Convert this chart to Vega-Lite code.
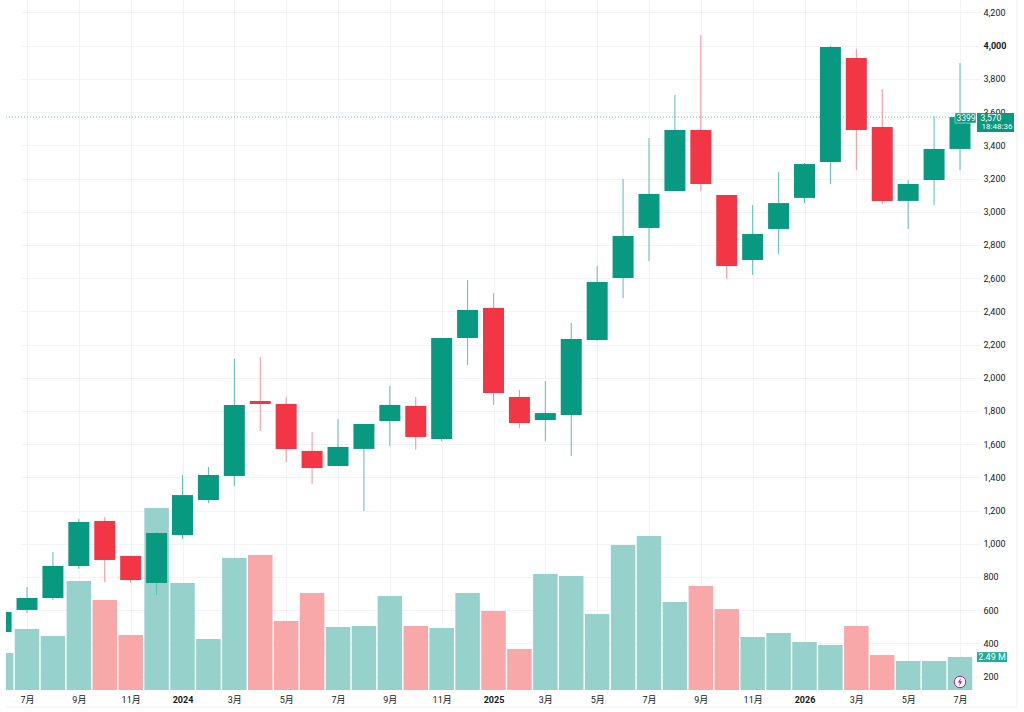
{
  "$schema": "https://vega.github.io/schema/vega-lite/v6.json",
  "width": 969,
  "height": 690,
  "autosize": "none",
  "padding": {"left": 6, "top": 0, "right": 49, "bottom": 22},
  "background": "#ffffff",
  "config": {"view": {"stroke": null}, "font": "Roboto, Noto Sans CJK SC"},
  "datasets": {
    "bars": [
      {"month": "2023-06", "open": 468, "close": 589, "high": 589, "low": 468, "volume": 2.79},
      {"month": "2023-07", "open": 601, "close": 673, "high": 739, "low": 583, "volume": 4.61},
      {"month": "2023-08", "open": 673, "close": 866, "high": 950, "low": 661, "volume": 4.08},
      {"month": "2023-09", "open": 866, "close": 1131, "high": 1149, "low": 848, "volume": 8.23},
      {"month": "2023-10", "open": 1137, "close": 902, "high": 1161, "low": 769, "volume": 6.8},
      {"month": "2023-11", "open": 926, "close": 781, "high": 930, "low": 763, "volume": 4.15},
      {"month": "2023-12", "open": 763, "close": 1065, "high": 1071, "low": 691, "volume": 13.74},
      {"month": "2024-01", "open": 1052, "close": 1293, "high": 1414, "low": 1028, "volume": 8.08},
      {"month": "2024-02", "open": 1263, "close": 1414, "high": 1462, "low": 1245, "volume": 3.85},
      {"month": "2024-03", "open": 1408, "close": 1836, "high": 2113, "low": 1348, "volume": 9.97},
      {"month": "2024-04", "open": 1860, "close": 1842, "high": 2125, "low": 1679, "volume": 10.19},
      {"month": "2024-05", "open": 1842, "close": 1571, "high": 1884, "low": 1492, "volume": 5.21},
      {"month": "2024-06", "open": 1559, "close": 1456, "high": 1673, "low": 1360, "volume": 7.32},
      {"month": "2024-07", "open": 1468, "close": 1583, "high": 1751, "low": 1468, "volume": 4.76},
      {"month": "2024-08", "open": 1571, "close": 1721, "high": 1721, "low": 1197, "volume": 4.83},
      {"month": "2024-09", "open": 1739, "close": 1836, "high": 1950, "low": 1589, "volume": 7.1},
      {"month": "2024-10", "open": 1830, "close": 1643, "high": 1884, "low": 1565, "volume": 4.83},
      {"month": "2024-11", "open": 1631, "close": 2239, "high": 2239, "low": 1619, "volume": 4.68},
      {"month": "2024-12", "open": 2239, "close": 2408, "high": 2589, "low": 2077, "volume": 7.32},
      {"month": "2025-01", "open": 2420, "close": 1908, "high": 2510, "low": 1836, "volume": 5.96},
      {"month": "2025-02", "open": 1884, "close": 1727, "high": 1926, "low": 1697, "volume": 3.1},
      {"month": "2025-03", "open": 1745, "close": 1787, "high": 1980, "low": 1619, "volume": 8.76},
      {"month": "2025-04", "open": 1775, "close": 2233, "high": 2330, "low": 1528, "volume": 8.61},
      {"month": "2025-05", "open": 2227, "close": 2577, "high": 2673, "low": 2221, "volume": 5.74},
      {"month": "2025-06", "open": 2601, "close": 2854, "high": 3197, "low": 2480, "volume": 10.95},
      {"month": "2025-07", "open": 2902, "close": 3107, "high": 3444, "low": 2703, "volume": 11.63},
      {"month": "2025-08", "open": 3125, "close": 3492, "high": 3703, "low": 3125, "volume": 6.64},
      {"month": "2025-09", "open": 3492, "close": 3167, "high": 4064, "low": 3125, "volume": 7.85},
      {"month": "2025-10", "open": 3101, "close": 2673, "high": 3101, "low": 2595, "volume": 6.12},
      {"month": "2025-11", "open": 2709, "close": 2866, "high": 3040, "low": 2619, "volume": 4.0},
      {"month": "2025-12", "open": 2896, "close": 3052, "high": 3239, "low": 2745, "volume": 4.3},
      {"month": "2026-01", "open": 3083, "close": 3287, "high": 3293, "low": 3052, "volume": 3.62},
      {"month": "2026-02", "open": 3299, "close": 3992, "high": 3998, "low": 3167, "volume": 3.4},
      {"month": "2026-03", "open": 3926, "close": 3492, "high": 3980, "low": 3251, "volume": 4.83},
      {"month": "2026-04", "open": 3510, "close": 3065, "high": 3739, "low": 3046, "volume": 2.64},
      {"month": "2026-05", "open": 3065, "close": 3167, "high": 3191, "low": 2896, "volume": 2.19},
      {"month": "2026-06", "open": 3191, "close": 3378, "high": 3576, "low": 3040, "volume": 2.19},
      {"month": "2026-07", "open": 3378, "close": 3570, "high": 3896, "low": 3251, "volume": 2.49}
    ]
  },
  "data": {"name": "bars"},
  "encoding": {
    "x": {
      "field": "month",
      "type": "ordinal",
      "title": null,
      "sort": null,
      "scale": {"type": "point", "padding": 0, "range": [-4.9, 954]},
      "axis": {
        "values": ["2023-07", "2023-09", "2023-11", "2024-01", "2024-03", "2024-05", "2024-07", "2024-09", "2024-11", "2025-01", "2025-03", "2025-05", "2025-07", "2025-09", "2025-11", "2026-01", "2026-03", "2026-05", "2026-07"],
        "labelExpr": "slice(datum.value,5)=='01' ? slice(datum.value,0,4) : toNumber(slice(datum.value,5))+'月'",
        "labelAngle": 0,
        "labelFontSize": 9,
        "labelColor": "#131722",
        "labelFontWeight": {"condition": {"test": "slice(datum.value,5)=='01'", "value": "bold"}, "value": "normal"},
        "labelPadding": 5,
        "labelOverlap": false,
        "labelBound": false,
        "labelFlush": false,
        "ticks": false,
        "domain": false,
        "grid": true,
        "gridColor": "#F2F3F5",
        "gridWidth": 1
      }
    }
  },
  "layer": [
    {
      "mark": {"type": "bar", "size": 24.5, "clip": true},
      "encoding": {
        "y": {
          "field": "volume",
          "type": "quantitative",
          "title": null,
          "scale": {"domain": [0, 52.1], "nice": false},
          "axis": null
        },
        "color": {
          "condition": {"test": "datum.close>=datum.open", "value": "#96D2CB"},
          "value": "#F8A8A8"
        }
      }
    },
    {
      "encoding": {
        "y": {
          "field": "low",
          "type": "quantitative",
          "title": null,
          "scale": {"domain": [118.7, 4275.3], "nice": false, "zero": false},
          "axis": {
            "orient": "right",
            "values": [200, 400, 600, 800, 1000, 1200, 1400, 1600, 1800, 2000, 2200, 2400, 2600, 2800, 3000, 3200, 3400, 3600, 3800, 4000, 4200],
            "labelExpr": "format(datum.value, ',')",
            "labelFontSize": 9,
            "labelColor": "#131722",
            "labelFontWeight": {"condition": {"test": "datum.value==4000", "value": "bold"}, "value": "normal"},
            "labelPadding": 8,
            "labelOverlap": false,
            "ticks": false,
            "domain": false,
            "grid": true,
            "gridColor": "#F2F3F5",
            "gridWidth": 1
          }
        }
      },
      "layer": [
        {
          "data": {"values": [{"level": 3570}]},
          "mark": {"type": "rule", "color": "#089981", "strokeDash": [1, 2], "strokeWidth": 1, "opacity": 0.6},
          "encoding": {"x": {"value": 0}, "x2": {"value": 969}, "y": {"field": "level", "type": "quantitative"}}
        },
        {
          "mark": {"type": "rule", "strokeWidth": 1, "clip": true},
          "encoding": {
            "y2": {"field": "high"},
            "color": {
              "condition": {"test": "datum.close>=datum.open", "value": "#5CBFAE"},
              "value": "#F88F97"
            }
          }
        },
        {
          "mark": {"type": "bar", "size": 21, "clip": true},
          "encoding": {
            "y": {"field": "open", "type": "quantitative"},
            "y2": {"field": "close"},
            "color": {
              "condition": {"test": "datum.close>=datum.open", "value": "#089981"},
              "value": "#F23645"
            }
          }
        },
        {
          "data": {"values": [{"month": "2026-07", "top": 3595, "bottom": 3534}]},
          "mark": {"type": "bar", "size": 21, "xOffset": 5.5, "color": "#089981", "stroke": "#ffffff", "strokeWidth": 0.5},
          "encoding": {"y": {"field": "top", "type": "quantitative"}, "y2": {"field": "bottom"}}
        },
        {
          "data": {"values": [{"month": "2026-07", "top": 3595, "bottom": 3480}]},
          "mark": {"type": "bar", "size": 37, "xOffset": 35.5, "color": "#089981"},
          "encoding": {"y": {"field": "top", "type": "quantitative"}, "y2": {"field": "bottom"}}
        },
        {
          "data": {"values": [{"month": "2026-07", "top": 347, "bottom": 287}]},
          "mark": {"type": "bar", "size": 30, "xOffset": 32, "color": "#22AB94"},
          "encoding": {"y": {"field": "top", "type": "quantitative"}, "y2": {"field": "bottom"}}
        },
        {
          "data": {"values": [{"month": "2026-07", "price": 3564, "label": "3399"}]},
          "mark": {"type": "text", "fontSize": 8.5, "color": "#ffffff", "baseline": "middle", "dx": 6},
          "encoding": {"y": {"field": "price", "type": "quantitative"}, "text": {"field": "label"}}
        },
        {
          "data": {"values": [{"month": "2026-07", "price": 3564, "label": "3,570"}]},
          "mark": {"type": "text", "fontSize": 8.5, "color": "#ffffff", "baseline": "middle", "dx": 31},
          "encoding": {"y": {"field": "price", "type": "quantitative"}, "text": {"field": "label"}}
        },
        {
          "data": {"values": [{"month": "2026-07", "price": 3513, "label": "18:48:36"}]},
          "mark": {"type": "text", "fontSize": 8, "color": "#ffffff", "baseline": "middle", "dx": 37},
          "encoding": {"y": {"field": "price", "type": "quantitative"}, "text": {"field": "label"}}
        },
        {
          "data": {"values": [{"month": "2026-07", "price": 317, "label": "2.49 M"}]},
          "mark": {"type": "text", "fontSize": 9, "color": "#ffffff", "baseline": "middle", "dx": 32},
          "encoding": {"y": {"field": "price", "type": "quantitative"}, "text": {"field": "label"}}
        },
        {
          "data": {"values": [{"month": "2026-07", "price": 167}]},
          "mark": {"type": "point", "shape": "circle", "size": 133, "filled": true, "fill": "#ffffff", "stroke": "#9C27B0", "strokeWidth": 1, "opacity": 1},
          "encoding": {"y": {"field": "price", "type": "quantitative"}}
        },
        {
          "data": {"values": [{"month": "2026-07", "price": 167}]},
          "mark": {"type": "point", "shape": "M0.2,-1L-0.5,0.15L-0.05,0.15L-0.2,1L0.5,-0.2L0.05,-0.2Z", "size": 70, "filled": true, "fill": "#9C27B0", "opacity": 1},
          "encoding": {"y": {"field": "price", "type": "quantitative"}}
        },
        {
          "data": {"values": [{"month": "2026-07", "top": 4275, "bottom": 16}]},
          "mark": {"type": "rule", "color": "#EEF0F3", "strokeWidth": 1, "xOffset": 57},
          "encoding": {"y": {"field": "top", "type": "quantitative"}, "y2": {"field": "bottom"}}
        },
        {
          "data": {"values": [{"level": 16}]},
          "mark": {"type": "rule", "color": "#EEF0F3", "strokeWidth": 1},
          "encoding": {"x": {"value": 0}, "x2": {"value": 1011}, "y": {"field": "level", "type": "quantitative"}}
        }
      ]
    }
  ],
  "resolve": {"scale": {"y": "independent"}}
}
